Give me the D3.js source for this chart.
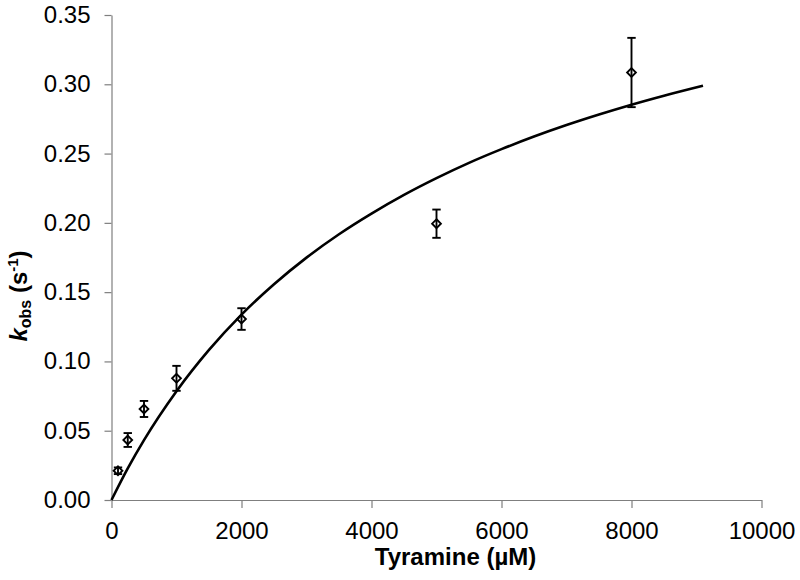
<!DOCTYPE html>
<html>
<head>
<meta charset="utf-8">
<script src="https://cdn.jsdelivr.net/npm/d3@7"></script>
<style>
  html, body { margin: 0; padding: 0; background: #fff; }
  svg { display: block; font-family: "Liberation Sans", Arial, sans-serif; }
</style>
</head>
<body>
<svg id="chart" width="800" height="580"></svg>
<script>
// Data points: tyramine concentration (µM), kobs (s^-1), error (±)
const concentrations = [100, 250, 500, 1000, 2000, 5000, 8000];
const kobsValues     = [0.0211, 0.0433, 0.0657, 0.0878, 0.1306, 0.1994, 0.3085];
const kobsErrors     = [0.0024, 0.0050, 0.0058, 0.0090, 0.0078, 0.0102, 0.0250];

// Fitted curve
const fitX = [0, 250, 500, 1000, 1500, 2000, 2500, 3000, 3500, 4000, 4500, 5000,
              5500, 6000, 6500, 7000, 7500, 8000, 8500, 9100];
const fitY = [0, 0.0228, 0.0432, 0.0785, 0.1083, 0.1338, 0.1557, 0.1749, 0.1918,
              0.2067, 0.2202, 0.2323, 0.2433, 0.2532, 0.2623, 0.2706, 0.2782,
              0.2853, 0.2918, 0.2990];

const xTicks = [0, 2000, 4000, 6000, 8000, 10000];
const yTicks = [0, 0.05, 0.10, 0.15, 0.20, 0.25, 0.30, 0.35];

const svg = d3.select("#chart");
const x = d3.scaleLinear().domain([0, 10000]).range([111.5, 761.5]);
const y = d3.scaleLinear().domain([0, 0.35]).range([500, 15]);
const axisColor = "#7f7f7f";

// X axis
const gx = svg.append("g").attr("transform", `translate(0,${y(0)})`)
  .call(d3.axisBottom(x).tickValues(xTicks).tickSize(8).tickSizeOuter(0).tickFormat(d3.format("d")));
gx.select(".domain").attr("stroke", axisColor).attr("stroke-width", 1.2);
gx.selectAll(".tick line").attr("stroke", axisColor).attr("stroke-width", 1.2);
gx.selectAll(".tick text").attr("fill", "#000").attr("font-size", 24)
  .attr("y", 39).attr("dy", 0).attr("font-family", "Liberation Sans, Arial, sans-serif");

// Y axis
const gy = svg.append("g").attr("transform", `translate(${x(0)},0)`)
  .call(d3.axisLeft(y).tickValues(yTicks).tickSize(7).tickSizeOuter(0).tickFormat(d3.format(".2f")));
gy.select(".domain").attr("stroke", axisColor).attr("stroke-width", 1.2);
gy.selectAll(".tick line").attr("stroke", axisColor).attr("stroke-width", 1.2);
gy.selectAll(".tick text").attr("fill", "#000").attr("font-size", 24)
  .attr("x", -21).attr("dy", "0.31em").attr("font-family", "Liberation Sans, Arial, sans-serif");

// Fit curve
const fitData = fitX.map((v, i) => [v, fitY[i]]);
svg.append("path")
  .datum(fitData)
  .attr("fill", "none")
  .attr("stroke", "#000")
  .attr("stroke-width", 2.6)
  .attr("stroke-linejoin", "round")
  .attr("d", d3.line().x(d => x(d[0])).y(d => y(d[1])).curve(d3.curveMonotoneX));

// Points data
const pts = concentrations.map((c, i) => ({ c, k: kobsValues[i], e: kobsErrors[i] }));

// Error bars
const eb = svg.append("g").attr("stroke", "#000").attr("stroke-width", 1.9);
eb.selectAll("line.v").data(pts).join("line")
  .attr("x1", d => x(d.c)).attr("x2", d => x(d.c))
  .attr("y1", d => y(d.k + d.e)).attr("y2", d => y(d.k - d.e));
eb.selectAll("line.t").data(pts).join("line")
  .attr("x1", d => x(d.c) - 4.2).attr("x2", d => x(d.c) + 4.2)
  .attr("y1", d => y(d.k + d.e)).attr("y2", d => y(d.k + d.e));
eb.selectAll("line.b").data(pts).join("line")
  .attr("x1", d => x(d.c) - 4.2).attr("x2", d => x(d.c) + 4.2)
  .attr("y1", d => y(d.k - d.e)).attr("y2", d => y(d.k - d.e));

// Diamond markers
const r = 4.4;
svg.append("g").selectAll("path").data(pts).join("path")
  .attr("d", d => {
    const cx = x(d.c), cy = y(d.k);
    return `M${cx},${cy - r}L${cx + r},${cy}L${cx},${cy + r}L${cx - r},${cy}Z`;
  })
  .attr("fill", "none")
  .attr("stroke", "#000")
  .attr("stroke-width", 1.9);

// X axis title
svg.append("text")
  .attr("x", 455.5).attr("y", 565)
  .attr("text-anchor", "middle")
  .attr("font-size", 24).attr("font-weight", "bold")
  .text("Tyramine (µM)");

// Y axis title
const yt = svg.append("text")
  .attr("transform", "translate(26.5,296) rotate(-90)")
  .attr("text-anchor", "middle")
  .attr("font-size", 24).attr("font-weight", "bold");
yt.append("tspan").attr("font-style", "italic").text("k");
yt.append("tspan").attr("font-size", 16).attr("dy", 4).text("obs");
yt.append("tspan").attr("dy", -4).text(" (s");
yt.append("tspan").attr("font-size", 15).attr("dy", -9).text("-1");
yt.append("tspan").attr("dy", 9).text(")");
</script>
</body>
</html>
